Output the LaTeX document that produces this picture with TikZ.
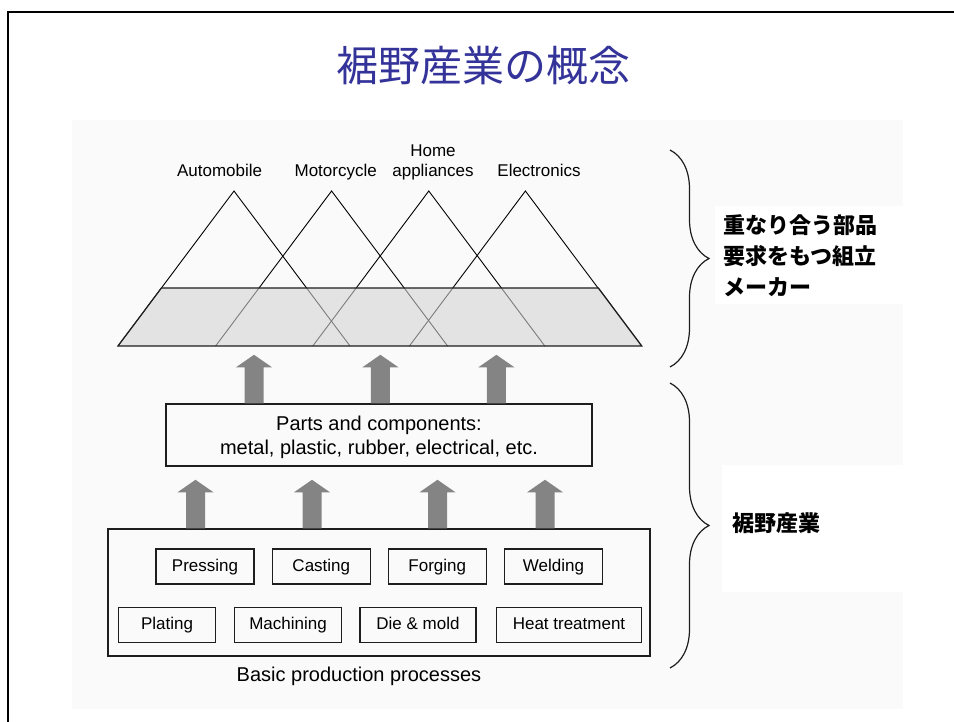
\documentclass[tikz,border=0pt]{standalone}
\usepackage{fontspec}
\setmainfont{Liberation Sans}
\newfontfamily\cjk{Noto Sans CJK JP}
\usetikzlibrary{decorations.pathreplacing}
\definecolor{titleblue}{RGB}{51,51,153}
\definecolor{bggray}{RGB}{250,250,250}
\definecolor{bandgray}{RGB}{227,227,227}
\definecolor{arrowgray}{RGB}{132,132,132}
\definecolor{linegray}{RGB}{30,30,30}
\tikzset{
  titlestyle/.style={font=\cjk\fontsize{42}{48}\selectfont, text=titleblue, inner sep=0},
  toplabel/.style={font=\fontsize{17}{20}\selectfont, anchor=base, inner sep=0},
  procbox/.style={draw=linegray, line width=1.3pt, minimum height=35pt, inner sep=0,
    text height=12.5pt, text depth=3.5pt, font=\fontsize{17}{20}\selectfont},
  bigbox/.style={draw=linegray, line width=1.3pt, inner sep=0},
  jplabel/.style={font=\cjk\bfseries\fontsize{22}{31}\selectfont, anchor=west, inner sep=0, align=left},
  bracestyle/.style={draw=linegray, line width=1.2pt, decorate,
    decoration={brace, amplitude=39pt}},
  uparrow/.pic={\fill[arrowgray] (-9.5,0) -- (-9.5,-36) -- (-18,-36) -- (0,-48.5)
     -- (18,-36) -- (9.5,-36) -- (9.5,0) -- cycle;},
  tri/.style={draw=black, line width=0.9pt}
}
\begin{document}
\begin{tikzpicture}[x=1pt,y=-1pt]
\useasboundingbox (0,0) rectangle (954,722);
\fill[white] (0,0) rectangle (954,722);
\fill[bggray] (72,120) rectangle (903,709);
\fill[white] (715,206) rectangle (903,304);
\fill[white] (722,465) rectangle (903,592);
\draw[line width=2.5pt, black] (8,722) -- (8,12) -- (954,12);

% title
\node[titlestyle] (title) at (483.5,66) {裾野産業の概念};

% labels on top
\node[toplabel] (auto) at (219.6,177) {Automobile};
\node[toplabel] (moto) at (335.7,177) {Motorcycle};
\node[toplabel] (home) at (433,156.5) {Home};
\node[toplabel] (appl) at (433,177) {appliances};
\node[toplabel] (elec) at (539,177) {Electronics};

% triangles
\coordinate (a1) at (234,191);
\coordinate (a2) at (331.6,191);
\coordinate (a3) at (428.8,191);
\coordinate (a4) at (525.4,191);
\fill[bandgray] (118,346) -- (161.4,288) -- (598.4,288) -- (641.8,346) -- cycle;
\foreach \a in {a1,a2,a3,a4}{
  \draw[tri] ([xshift=-116pt,yshift=-155pt]\a) -- (\a) -- ([xshift=116pt,yshift=-155pt]\a);
}
\fill[bandgray, opacity=0.55] (118,346) -- (161.4,288) -- (598.4,288) -- (641.8,346) -- cycle;
\draw[line width=1.2pt, linegray, line join=miter] (118,346) -- (161.4,288) -- (598.4,288) -- (641.8,346) -- cycle;

% parts box
\node[bigbox, minimum width=426pt, minimum height=62pt] (parts) at (379,435) {};
\node[align=center, inner sep=0, font=\fontsize{20}{24}\selectfont] (partstext) at (379,437.5)
  {Parts and components:\\metal, plastic, rubber, electrical, etc.};

% basic processes box
\node[bigbox, minimum width=542pt, minimum height=127pt] (basic) at (379,592.5) {};
\node[procbox, minimum width=98pt] (press) at (205,566.5) {Pressing};
\node[procbox, minimum width=98pt] (cast) at (321.3,566.5) {Casting};
\node[procbox, minimum width=98pt] (forg) at (437.3,566.5) {Forging};
\node[procbox, minimum width=98pt] (weld) at (553.5,566.5) {Welding};
\node[procbox, minimum width=97pt] (plat) at (167,625) {Plating};
\node[procbox, minimum width=107pt] (mach) at (288,625) {Machining};
\node[procbox, minimum width=116pt] (die) at (418,625) {Die \& mold};
\node[procbox, minimum width=145pt] (heat) at (569,625) {Heat treatment};
\node[font=\fontsize{20}{23}\selectfont, inner sep=0] (bpp) at (359,676) {Basic production processes};

% arrows
\pic at (254,403.3) {uparrow};
\pic at (380.4,403.3) {uparrow};
\pic at (496.4,403.3) {uparrow};
\pic at (195.5,528.3) {uparrow};
\pic at (312,528.3) {uparrow};
\pic at (437.5,528.3) {uparrow};
\pic at (545,528.3) {uparrow};

% braces
\coordinate (b1t) at (670,150);
\coordinate (b1b) at (670,367);
\coordinate (b2t) at (670,383);
\coordinate (b2b) at (670,668);
\draw[bracestyle] (b1t) -- (b1b);
\draw[bracestyle] (b2t) -- (b2b);

% japanese labels
\node[jplabel] (jp1) at (723,256) {重なり合う部品\\要求をもつ組立\\メーカー};
\node[jplabel] (jp2) at (732,523) {裾野産業};
\end{tikzpicture}
\end{document}
